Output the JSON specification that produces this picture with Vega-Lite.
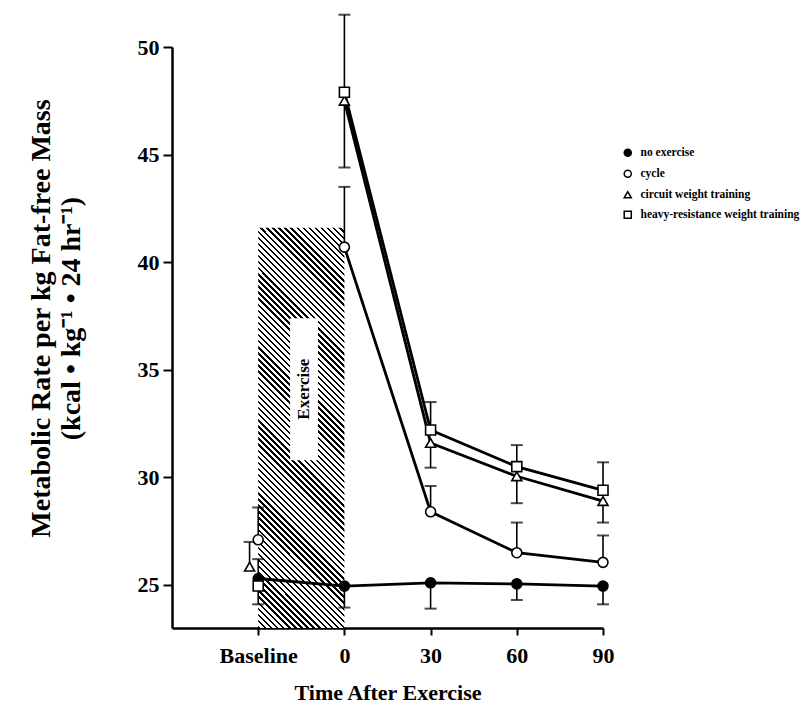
{
  "$schema": "https://vega.github.io/schema/vega-lite/v6.json",
  "width": 431,
  "height": 581,
  "autosize": {"type": "none"},
  "padding": {"left": 172, "top": 47, "right": 198, "bottom": 83},
  "background": "white",
  "config": {
    "font": "Liberation Serif",
    "view": {"stroke": null},
    "axis": {
      "grid": false,
      "domainColor": "black",
      "domainWidth": 2.5,
      "tickColor": "black",
      "tickWidth": 2,
      "labelColor": "black",
      "titleColor": "black",
      "labelFont": "Liberation Serif",
      "titleFont": "Liberation Serif",
      "labelFontWeight": "bold",
      "titleFontWeight": "bold",
      "labelFontSize": 22,
      "titleFontSize": 22
    },
    "legend": {
      "orient": "none",
      "legendX": 450,
      "legendY": 100,
      "title": null,
      "labelFont": "Liberation Serif",
      "labelFontWeight": "bold",
      "labelFontSize": 11.5,
      "labelColor": "black",
      "labelLimit": 0,
      "symbolStrokeWidth": 1.5,
      "symbolSize": 50,
      "rowPadding": 7,
      "labelOffset": 7
    }
  },
  "datasets": {
    "points": [
      {"series": "no exercise", "t": -30, "v": 25.3, "cap": 26.2, "conn": true},
      {"series": "no exercise", "t": 0, "v": 24.95, "cap": 23.95, "conn": true},
      {"series": "no exercise", "t": 30, "v": 25.1, "cap": 23.9, "conn": true},
      {"series": "no exercise", "t": 60, "v": 25.05, "cap": 24.3, "conn": true},
      {"series": "no exercise", "t": 90, "v": 24.95, "cap": 24.1, "conn": true},
      {"series": "cycle", "t": -30, "v": 27.1, "cap": 28.6, "conn": false},
      {"series": "cycle", "t": 0, "v": 40.7, "cap": 43.5, "conn": true},
      {"series": "cycle", "t": 30, "v": 28.4, "cap": 29.6, "conn": true},
      {"series": "cycle", "t": 60, "v": 26.5, "cap": 27.9, "conn": true},
      {"series": "cycle", "t": 90, "v": 26.05, "cap": 27.3, "conn": true},
      {"series": "circuit weight training", "t": -33, "v": 25.85, "cap": 27.0, "conn": false},
      {"series": "circuit weight training", "t": 0, "v": 47.5, "cap": 44.4, "conn": true},
      {"series": "circuit weight training", "t": 30, "v": 31.6, "cap": 30.45, "conn": true},
      {"series": "circuit weight training", "t": 60, "v": 30.05, "cap": 28.8, "conn": true},
      {"series": "circuit weight training", "t": 90, "v": 28.9, "cap": 27.9, "conn": true},
      {"series": "heavy-resistance weight training", "t": -30, "v": 24.95, "cap": 24.1, "conn": false},
      {"series": "heavy-resistance weight training", "t": 0, "v": 47.9, "cap": 51.5, "conn": true},
      {"series": "heavy-resistance weight training", "t": 30, "v": 32.2, "cap": 33.5, "conn": true},
      {"series": "heavy-resistance weight training", "t": 60, "v": 30.5, "cap": 31.5, "conn": true},
      {"series": "heavy-resistance weight training", "t": 90, "v": 29.4, "cap": 30.7, "conn": true}
    ],
    "period": [
      {"label": "Exercise", "start": -30, "end": 0}
    ]
  },
  "layer": [
    {
      "data": {"name": "period"},
      "mark": {
        "type": "rect",
        "fill": {
          "gradient": "linear",
          "x1": 0, "y1": 1, "x2": 0.2503, "y2": -0.1616,
          "stops": [
            {"offset":0,"color":"#000"},{"offset":0.005,"color":"#000"},{"offset":0.005,"color":"#fff"},{"offset":0.0125,"color":"#fff"},
            {"offset":0.0125,"color":"#000"},{"offset":0.0175,"color":"#000"},{"offset":0.0175,"color":"#fff"},{"offset":0.025,"color":"#fff"},
            {"offset":0.025,"color":"#000"},{"offset":0.03,"color":"#000"},{"offset":0.03,"color":"#fff"},{"offset":0.0375,"color":"#fff"},
            {"offset":0.0375,"color":"#000"},{"offset":0.0425,"color":"#000"},{"offset":0.0425,"color":"#fff"},{"offset":0.05,"color":"#fff"},
            {"offset":0.05,"color":"#000"},{"offset":0.055,"color":"#000"},{"offset":0.055,"color":"#fff"},{"offset":0.0625,"color":"#fff"},
            {"offset":0.0625,"color":"#000"},{"offset":0.0675,"color":"#000"},{"offset":0.0675,"color":"#fff"},{"offset":0.075,"color":"#fff"},
            {"offset":0.075,"color":"#000"},{"offset":0.08,"color":"#000"},{"offset":0.08,"color":"#fff"},{"offset":0.0875,"color":"#fff"},
            {"offset":0.0875,"color":"#000"},{"offset":0.0925,"color":"#000"},{"offset":0.0925,"color":"#fff"},{"offset":0.1,"color":"#fff"},
            {"offset":0.1,"color":"#000"},{"offset":0.105,"color":"#000"},{"offset":0.105,"color":"#fff"},{"offset":0.1125,"color":"#fff"},
            {"offset":0.1125,"color":"#000"},{"offset":0.1175,"color":"#000"},{"offset":0.1175,"color":"#fff"},{"offset":0.125,"color":"#fff"},
            {"offset":0.125,"color":"#000"},{"offset":0.13,"color":"#000"},{"offset":0.13,"color":"#fff"},{"offset":0.1375,"color":"#fff"},
            {"offset":0.1375,"color":"#000"},{"offset":0.1425,"color":"#000"},{"offset":0.1425,"color":"#fff"},{"offset":0.15,"color":"#fff"},
            {"offset":0.15,"color":"#000"},{"offset":0.155,"color":"#000"},{"offset":0.155,"color":"#fff"},{"offset":0.1625,"color":"#fff"},
            {"offset":0.1625,"color":"#000"},{"offset":0.1675,"color":"#000"},{"offset":0.1675,"color":"#fff"},{"offset":0.175,"color":"#fff"},
            {"offset":0.175,"color":"#000"},{"offset":0.18,"color":"#000"},{"offset":0.18,"color":"#fff"},{"offset":0.1875,"color":"#fff"},
            {"offset":0.1875,"color":"#000"},{"offset":0.1925,"color":"#000"},{"offset":0.1925,"color":"#fff"},{"offset":0.2,"color":"#fff"},
            {"offset":0.2,"color":"#000"},{"offset":0.205,"color":"#000"},{"offset":0.205,"color":"#fff"},{"offset":0.2125,"color":"#fff"},
            {"offset":0.2125,"color":"#000"},{"offset":0.2175,"color":"#000"},{"offset":0.2175,"color":"#fff"},{"offset":0.225,"color":"#fff"},
            {"offset":0.225,"color":"#000"},{"offset":0.23,"color":"#000"},{"offset":0.23,"color":"#fff"},{"offset":0.2375,"color":"#fff"},
            {"offset":0.2375,"color":"#000"},{"offset":0.2425,"color":"#000"},{"offset":0.2425,"color":"#fff"},{"offset":0.25,"color":"#fff"},
            {"offset":0.25,"color":"#000"},{"offset":0.255,"color":"#000"},{"offset":0.255,"color":"#fff"},{"offset":0.2625,"color":"#fff"},
            {"offset":0.2625,"color":"#000"},{"offset":0.2675,"color":"#000"},{"offset":0.2675,"color":"#fff"},{"offset":0.275,"color":"#fff"},
            {"offset":0.275,"color":"#000"},{"offset":0.28,"color":"#000"},{"offset":0.28,"color":"#fff"},{"offset":0.2875,"color":"#fff"},
            {"offset":0.2875,"color":"#000"},{"offset":0.2925,"color":"#000"},{"offset":0.2925,"color":"#fff"},{"offset":0.3,"color":"#fff"},
            {"offset":0.3,"color":"#000"},{"offset":0.305,"color":"#000"},{"offset":0.305,"color":"#fff"},{"offset":0.3125,"color":"#fff"},
            {"offset":0.3125,"color":"#000"},{"offset":0.3175,"color":"#000"},{"offset":0.3175,"color":"#fff"},{"offset":0.325,"color":"#fff"},
            {"offset":0.325,"color":"#000"},{"offset":0.33,"color":"#000"},{"offset":0.33,"color":"#fff"},{"offset":0.3375,"color":"#fff"},
            {"offset":0.3375,"color":"#000"},{"offset":0.3425,"color":"#000"},{"offset":0.3425,"color":"#fff"},{"offset":0.35,"color":"#fff"},
            {"offset":0.35,"color":"#000"},{"offset":0.355,"color":"#000"},{"offset":0.355,"color":"#fff"},{"offset":0.3625,"color":"#fff"},
            {"offset":0.3625,"color":"#000"},{"offset":0.3675,"color":"#000"},{"offset":0.3675,"color":"#fff"},{"offset":0.375,"color":"#fff"},
            {"offset":0.375,"color":"#000"},{"offset":0.38,"color":"#000"},{"offset":0.38,"color":"#fff"},{"offset":0.3875,"color":"#fff"},
            {"offset":0.3875,"color":"#000"},{"offset":0.3925,"color":"#000"},{"offset":0.3925,"color":"#fff"},{"offset":0.4,"color":"#fff"},
            {"offset":0.4,"color":"#000"},{"offset":0.405,"color":"#000"},{"offset":0.405,"color":"#fff"},{"offset":0.4125,"color":"#fff"},
            {"offset":0.4125,"color":"#000"},{"offset":0.4175,"color":"#000"},{"offset":0.4175,"color":"#fff"},{"offset":0.425,"color":"#fff"},
            {"offset":0.425,"color":"#000"},{"offset":0.43,"color":"#000"},{"offset":0.43,"color":"#fff"},{"offset":0.4375,"color":"#fff"},
            {"offset":0.4375,"color":"#000"},{"offset":0.4425,"color":"#000"},{"offset":0.4425,"color":"#fff"},{"offset":0.45,"color":"#fff"},
            {"offset":0.45,"color":"#000"},{"offset":0.455,"color":"#000"},{"offset":0.455,"color":"#fff"},{"offset":0.4625,"color":"#fff"},
            {"offset":0.4625,"color":"#000"},{"offset":0.4675,"color":"#000"},{"offset":0.4675,"color":"#fff"},{"offset":0.475,"color":"#fff"},
            {"offset":0.475,"color":"#000"},{"offset":0.48,"color":"#000"},{"offset":0.48,"color":"#fff"},{"offset":0.4875,"color":"#fff"},
            {"offset":0.4875,"color":"#000"},{"offset":0.4925,"color":"#000"},{"offset":0.4925,"color":"#fff"},{"offset":0.5,"color":"#fff"},
            {"offset":0.5,"color":"#000"},{"offset":0.505,"color":"#000"},{"offset":0.505,"color":"#fff"},{"offset":0.5125,"color":"#fff"},
            {"offset":0.5125,"color":"#000"},{"offset":0.5175,"color":"#000"},{"offset":0.5175,"color":"#fff"},{"offset":0.525,"color":"#fff"},
            {"offset":0.525,"color":"#000"},{"offset":0.53,"color":"#000"},{"offset":0.53,"color":"#fff"},{"offset":0.5375,"color":"#fff"},
            {"offset":0.5375,"color":"#000"},{"offset":0.5425,"color":"#000"},{"offset":0.5425,"color":"#fff"},{"offset":0.55,"color":"#fff"},
            {"offset":0.55,"color":"#000"},{"offset":0.555,"color":"#000"},{"offset":0.555,"color":"#fff"},{"offset":0.5625,"color":"#fff"},
            {"offset":0.5625,"color":"#000"},{"offset":0.5675,"color":"#000"},{"offset":0.5675,"color":"#fff"},{"offset":0.575,"color":"#fff"},
            {"offset":0.575,"color":"#000"},{"offset":0.58,"color":"#000"},{"offset":0.58,"color":"#fff"},{"offset":0.5875,"color":"#fff"},
            {"offset":0.5875,"color":"#000"},{"offset":0.5925,"color":"#000"},{"offset":0.5925,"color":"#fff"},{"offset":0.6,"color":"#fff"},
            {"offset":0.6,"color":"#000"},{"offset":0.605,"color":"#000"},{"offset":0.605,"color":"#fff"},{"offset":0.6125,"color":"#fff"},
            {"offset":0.6125,"color":"#000"},{"offset":0.6175,"color":"#000"},{"offset":0.6175,"color":"#fff"},{"offset":0.625,"color":"#fff"},
            {"offset":0.625,"color":"#000"},{"offset":0.63,"color":"#000"},{"offset":0.63,"color":"#fff"},{"offset":0.6375,"color":"#fff"},
            {"offset":0.6375,"color":"#000"},{"offset":0.6425,"color":"#000"},{"offset":0.6425,"color":"#fff"},{"offset":0.65,"color":"#fff"},
            {"offset":0.65,"color":"#000"},{"offset":0.655,"color":"#000"},{"offset":0.655,"color":"#fff"},{"offset":0.6625,"color":"#fff"},
            {"offset":0.6625,"color":"#000"},{"offset":0.6675,"color":"#000"},{"offset":0.6675,"color":"#fff"},{"offset":0.675,"color":"#fff"},
            {"offset":0.675,"color":"#000"},{"offset":0.68,"color":"#000"},{"offset":0.68,"color":"#fff"},{"offset":0.6875,"color":"#fff"},
            {"offset":0.6875,"color":"#000"},{"offset":0.6925,"color":"#000"},{"offset":0.6925,"color":"#fff"},{"offset":0.7,"color":"#fff"},
            {"offset":0.7,"color":"#000"},{"offset":0.705,"color":"#000"},{"offset":0.705,"color":"#fff"},{"offset":0.7125,"color":"#fff"},
            {"offset":0.7125,"color":"#000"},{"offset":0.7175,"color":"#000"},{"offset":0.7175,"color":"#fff"},{"offset":0.725,"color":"#fff"},
            {"offset":0.725,"color":"#000"},{"offset":0.73,"color":"#000"},{"offset":0.73,"color":"#fff"},{"offset":0.7375,"color":"#fff"},
            {"offset":0.7375,"color":"#000"},{"offset":0.7425,"color":"#000"},{"offset":0.7425,"color":"#fff"},{"offset":0.75,"color":"#fff"},
            {"offset":0.75,"color":"#000"},{"offset":0.755,"color":"#000"},{"offset":0.755,"color":"#fff"},{"offset":0.7625,"color":"#fff"},
            {"offset":0.7625,"color":"#000"},{"offset":0.7675,"color":"#000"},{"offset":0.7675,"color":"#fff"},{"offset":0.775,"color":"#fff"},
            {"offset":0.775,"color":"#000"},{"offset":0.78,"color":"#000"},{"offset":0.78,"color":"#fff"},{"offset":0.7875,"color":"#fff"},
            {"offset":0.7875,"color":"#000"},{"offset":0.7925,"color":"#000"},{"offset":0.7925,"color":"#fff"},{"offset":0.8,"color":"#fff"},
            {"offset":0.8,"color":"#000"},{"offset":0.805,"color":"#000"},{"offset":0.805,"color":"#fff"},{"offset":0.8125,"color":"#fff"},
            {"offset":0.8125,"color":"#000"},{"offset":0.8175,"color":"#000"},{"offset":0.8175,"color":"#fff"},{"offset":0.825,"color":"#fff"},
            {"offset":0.825,"color":"#000"},{"offset":0.83,"color":"#000"},{"offset":0.83,"color":"#fff"},{"offset":0.8375,"color":"#fff"},
            {"offset":0.8375,"color":"#000"},{"offset":0.8425,"color":"#000"},{"offset":0.8425,"color":"#fff"},{"offset":0.85,"color":"#fff"},
            {"offset":0.85,"color":"#000"},{"offset":0.855,"color":"#000"},{"offset":0.855,"color":"#fff"},{"offset":0.8625,"color":"#fff"},
            {"offset":0.8625,"color":"#000"},{"offset":0.8675,"color":"#000"},{"offset":0.8675,"color":"#fff"},{"offset":0.875,"color":"#fff"},
            {"offset":0.875,"color":"#000"},{"offset":0.88,"color":"#000"},{"offset":0.88,"color":"#fff"},{"offset":0.8875,"color":"#fff"},
            {"offset":0.8875,"color":"#000"},{"offset":0.8925,"color":"#000"},{"offset":0.8925,"color":"#fff"},{"offset":0.9,"color":"#fff"},
            {"offset":0.9,"color":"#000"},{"offset":0.905,"color":"#000"},{"offset":0.905,"color":"#fff"},{"offset":0.9125,"color":"#fff"},
            {"offset":0.9125,"color":"#000"},{"offset":0.9175,"color":"#000"},{"offset":0.9175,"color":"#fff"},{"offset":0.925,"color":"#fff"},
            {"offset":0.925,"color":"#000"},{"offset":0.93,"color":"#000"},{"offset":0.93,"color":"#fff"},{"offset":0.9375,"color":"#fff"},
            {"offset":0.9375,"color":"#000"},{"offset":0.9425,"color":"#000"},{"offset":0.9425,"color":"#fff"},{"offset":0.95,"color":"#fff"},
            {"offset":0.95,"color":"#000"},{"offset":0.955,"color":"#000"},{"offset":0.955,"color":"#fff"},{"offset":0.9625,"color":"#fff"},
            {"offset":0.9625,"color":"#000"},{"offset":0.9675,"color":"#000"},{"offset":0.9675,"color":"#fff"},{"offset":0.975,"color":"#fff"},
            {"offset":0.975,"color":"#000"},{"offset":0.98,"color":"#000"},{"offset":0.98,"color":"#fff"},{"offset":0.9875,"color":"#fff"},
            {"offset":0.9875,"color":"#000"},{"offset":0.9925,"color":"#000"},{"offset":0.9925,"color":"#fff"},{"offset":1,"color":"#fff"}
          ]
        }
      },
      "encoding": {
        "x": {"field": "start", "type": "quantitative"},
        "x2": {"field": "end"},
        "y": {"datum": 23, "type": "quantitative"},
        "y2": {"datum": 41.6}
      }
    },
    {
      "data": {"name": "period"},
      "mark": {"type": "rect", "fill": "white"},
      "encoding": {
        "x": {"datum": -18.9, "type": "quantitative"},
        "x2": {"datum": -9.2},
        "y": {"datum": 30.8, "type": "quantitative"},
        "y2": {"datum": 37.4}
      }
    },
    {
      "data": {"name": "period"},
      "mark": {"type": "text", "angle": 270, "font": "Liberation Serif", "fontWeight": "bold", "fontSize": 17, "color": "black", "align": "center", "baseline": "middle"},
      "encoding": {
        "x": {"datum": -14, "type": "quantitative"},
        "y": {"datum": 34.1, "type": "quantitative"},
        "text": {"field": "label"}
      }
    },
    {
      "data": {"name": "points"},
      "transform": [{"filter": "datum.conn"}],
      "mark": {"type": "line", "color": "black", "strokeWidth": 2.8},
      "encoding": {
        "x": {"field": "t", "type": "quantitative"},
        "y": {"field": "v", "type": "quantitative"},
        "detail": {"field": "series"},
        "order": {"field": "t", "type": "quantitative"}
      }
    },
    {
      "data": {"name": "points"},
      "mark": {"type": "rule", "color": "black", "strokeWidth": 1.6},
      "encoding": {
        "x": {"field": "t", "type": "quantitative"},
        "y": {"field": "v", "type": "quantitative"},
        "y2": {"field": "cap"}
      }
    },
    {
      "data": {"name": "points"},
      "mark": {"type": "tick", "orient": "horizontal", "color": "black", "size": 12, "thickness": 2},
      "encoding": {
        "x": {"field": "t", "type": "quantitative"},
        "y": {"field": "cap", "type": "quantitative"}
      }
    },
    {
      "data": {"name": "points"},
      "mark": {"type": "point", "filled": true, "strokeWidth": 1.6, "size": 100, "opacity": 1},
      "encoding": {
        "x": {
          "field": "t",
          "type": "quantitative",
          "scale": {"domain": [-60, 90], "nice": false, "zero": false},
          "axis": {
            "values": [-30, 0, 30, 60, 90],
            "labelExpr": "datum.value == -30 ? 'Baseline' : datum.label",
            "tickSize": 7,
            "labelPadding": 10,
            "labelFlush": false,
            "labelOverlap": false,
            "title": "Time After Exercise",
            "titlePadding": 16
          }
        },
        "y": {
          "field": "v",
          "type": "quantitative",
          "scale": {"domain": [23, 50], "nice": false, "zero": false},
          "axis": {
            "values": [25, 30, 35, 40, 45, 50],
            "tickSize": 9,
            "labelPadding": 4,
            "title": ["Metabolic Rate per kg Fat-free Mass", "(kcal • kg⁻¹ • 24 hr⁻¹)"],
            "titleAngle": 270,
            "titleFontSize": 28,
            "titleX": -145,
            "titleY": 271,
            "titleBaseline": "top",
            "titleLineHeight": 30
          }
        },
        "shape": {
          "field": "series",
          "type": "nominal",
          "scale": {
            "domain": ["no exercise", "cycle", "circuit weight training", "heavy-resistance weight training"],
            "range": ["circle", "circle", "triangle-up", "square"]
          },
          "legend": {"labelLimit": 0}
        },
        "fill": {
          "field": "series",
          "type": "nominal",
          "scale": {
            "domain": ["no exercise", "cycle", "circuit weight training", "heavy-resistance weight training"],
            "range": ["black", "white", "white", "white"]
          },
          "legend": {"labelLimit": 0}
        },
        "stroke": {
          "field": "series",
          "type": "nominal",
          "scale": {
            "domain": ["no exercise", "cycle", "circuit weight training", "heavy-resistance weight training"],
            "range": ["black", "black", "black", "black"]
          },
          "legend": {"labelLimit": 0}
        }
      }
    }
  ]
}
